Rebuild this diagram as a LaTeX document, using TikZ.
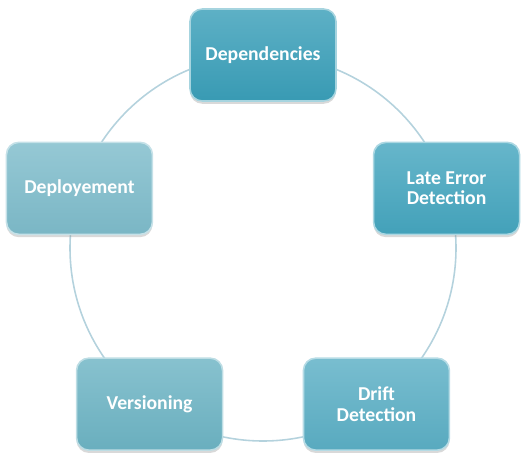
\documentclass[tikz,border=0pt]{standalone}
\usepackage{fontspec}
\setsansfont{Carlito}
\usetikzlibrary{shadows, backgrounds}
\definecolor{ringline}{HTML}{B4D2DD}
\definecolor{depcol}{HTML}{3A9FB9}
\definecolor{latecol}{HTML}{45A6BF}
\definecolor{driftcol}{HTML}{5BAFC5}
\definecolor{verscol}{HTML}{6DB4C4}
\definecolor{deplcol}{HTML}{7EBCCB}

\begin{document}
\begin{tikzpicture}[x=0.02cm, y=0.02cm,
  phase/.style={rectangle, rounded corners=7pt, draw=#1!45!white,
                line width=0.9pt, top color=#1!82!white, bottom color=#1!97!black,
                minimum width=2.92cm, minimum height=1.84cm,
                align=center, text=white,
                font=\sffamily\bfseries\fontsize{11.2}{11.6}\selectfont,
                drop shadow={shadow xshift=0pt, shadow yshift=-1.6pt, opacity=0.3}}
]
\useasboundingbox (-263,-222) rectangle (263,248);
\coordinate (hub) at (0,0);

% Cycle stages
\node[phase=depcol] (dep) at (90:193) {Dependencies};
\node[phase=latecol] (late) at (18:193) {Late Error\\Detection};
\node[phase=driftcol] (drift) at (-54:193) {Drift\\Detection};
\node[phase=verscol] (vers) at (-126:193) {Versioning};
\node[phase=deplcol] (depl) at (162:193) {Deployement};

% Ring behind the stages
\begin{scope}[on background layer]
\draw[ringline, line width=0.9pt] (hub) circle[radius=193];
\end{scope}
\end{tikzpicture}
\end{document}
